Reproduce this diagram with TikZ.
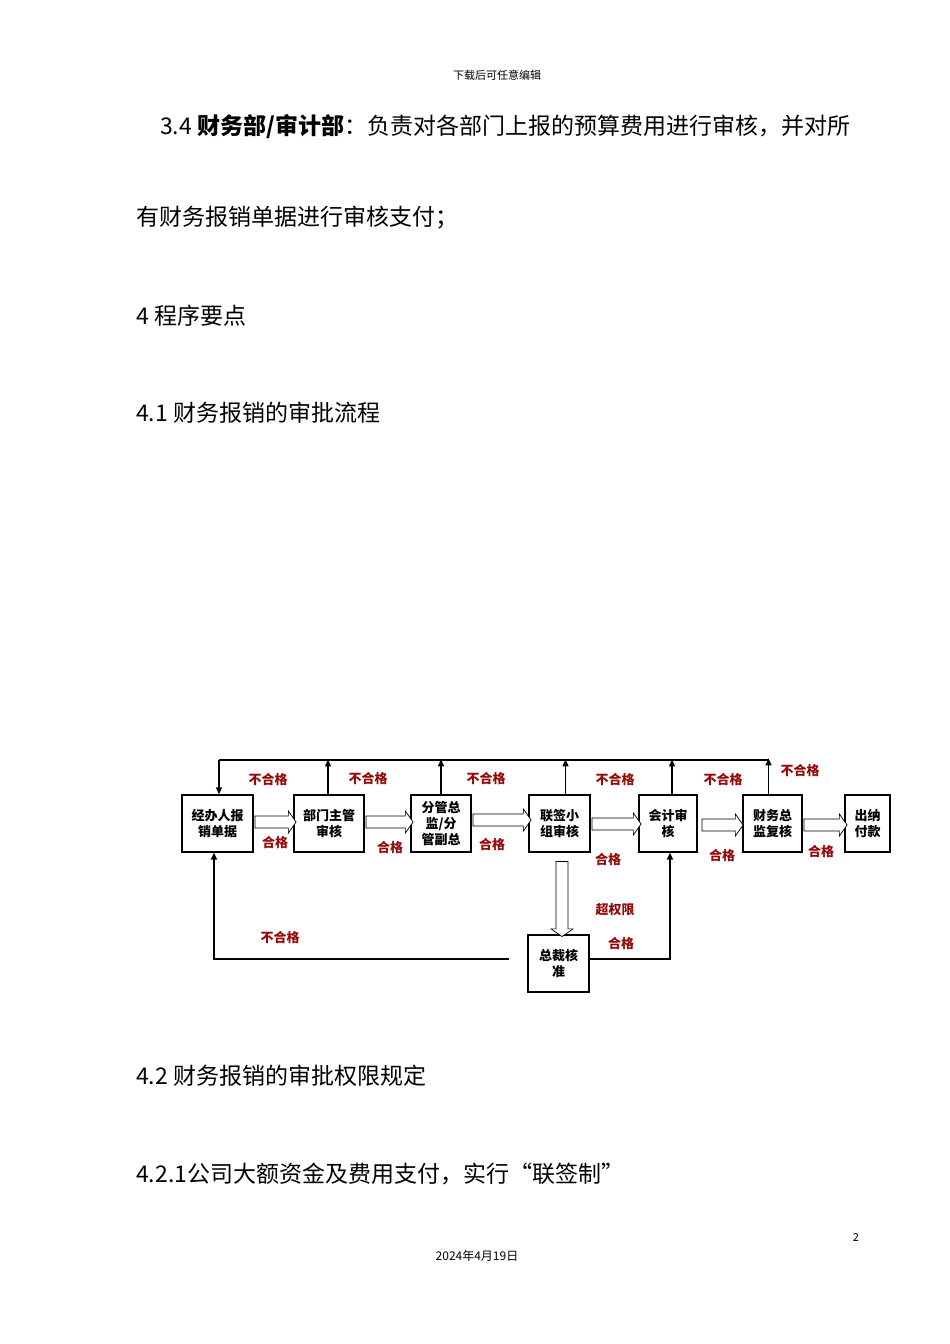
\documentclass[tikz,border=0pt]{standalone}
\usepackage{fontspec}
\setmainfont{Noto Sans CJK SC}
\usetikzlibrary{shapes.arrows,arrows.meta}
\begin{document}
\begin{tikzpicture}[x=1pt,y=-1pt,
 box/.style={draw,line width=1.3pt,inner sep=0pt,align=center,font=\fontsize{13}{16}\selectfont\bfseries},
 lab/.style={text={rgb,255:red,150;green,10;blue,10},font=\fontsize{13}{15}\selectfont\bfseries,inner sep=0pt},
 body/.style={anchor=west,font=\fontsize{23}{27}\selectfont,inner sep=0pt},
 harrow/.style={single arrow,draw,fill=white,line width=0.7pt,minimum width=22pt,single arrow head extend=5pt,inner xsep=0pt,inner ysep=5.5pt,text height=0pt,text depth=0pt,single arrow tip angle=110},
 ln/.style={line width=1.3pt},
 ar/.style={ln,-{Triangle[length=7pt,width=6pt]}}]
\useasboundingbox (0,0) rectangle (950,1344);
\node[font=\fontsize{11}{13}\selectfont] (hd) at (497,75) {下载后可任意编辑};
\node[body] (t1) at (160,127) {3.4 {\bfseries 财务部/审计部}：负责对各部门上报的预算费用进行审核，并对所};
\node[body] (t2) at (136,218) {有财务报销单据进行审核支付；};
\node[body] (t3) at (136,316) {4 程序要点};
\node[body] (t4) at (136,413) {4.1 财务报销的审批流程};
\node[body] (t5) at (136,1076) {4.2 财务报销的审批权限规定};
\node[body] (t6) at (136,1174) {4.2.1公司大额资金及费用支付，实行“联签制”};
\node[font=\fontsize{11}{13}\selectfont] (pg) at (856,1237) {2};
\node[font=\fontsize{12}{14}\selectfont] (ft) at (477,1256) {2024年4月19日};

\node[box,minimum width=71pt,minimum height=57pt] (b1) at (217.5,823.5) {经办人报\\销单据};
\node[box,minimum width=70pt,minimum height=57pt] (b2) at (329,823.5) {部门主管\\审核};
\node[box,minimum width=60pt,minimum height=57pt] (b3) at (441,823.5) {分管总\\监/分\\管副总};
\node[box,minimum width=61pt,minimum height=57pt] (b4) at (559.5,823.5) {联签小\\组审核};
\node[box,minimum width=58pt,minimum height=57pt] (b5) at (668,823.5) {会计审\\核};
\node[box,minimum width=59pt,minimum height=57pt] (b6) at (772.5,823.5) {财务总\\监复核};
\node[box,minimum width=45pt,minimum height=57pt] (b7) at (867.5,823.5) {出纳\\付款};
\node[box,minimum width=61pt,minimum height=57pt] (b8) at (558.5,963.5) {总裁核\\准};

\node[harrow,minimum height=41pt] (h1) at (273.5,822) {};
\node[harrow,minimum height=47pt] (h2) at (387.5,822) {};
\node[harrow,minimum height=58pt] (h3) at (500,820) {};
\node[harrow,minimum height=49pt] (h4) at (614.5,824) {};
\node[harrow,minimum height=41pt] (h5) at (720.5,825) {};
\node[harrow,minimum height=43pt] (h6) at (823.5,825) {};
\node[harrow,minimum height=75pt,rotate=-90] (h7) at (562,897) {};

\coordinate (c1) at (219,760);
\coordinate (c6) at (768,760);
\draw[ln] (c6) -- (c1);
\draw[ar] (c1) -- (b1.north -| c1);
\draw[ar] (b2.north) ++(-1,0) -- ++(0,-35);
\draw[ar] (b3.north) -- ++(0,-35);
\draw[ar] (b4.north) ++(6,0) -- ++(0,-35);
\draw[ar] (b5.north) ++(4,0) -- ++(0,-35);
\draw[ar] (b6.north) ++(-4,0) -- ++(0,-36);
\coordinate (c2) at (509,959);
\coordinate (c3) at (214,959);
\draw[ar] (c2) -- (c3) -- (b1.south -| c3);
\coordinate (c4) at (670,959);
\draw[ar] (b8.east |- c4) -- (c4) -- (b5.south -| c4);

\node[lab] (l1) at (268,780) {不合格};
\node[lab] (l2) at (368,779) {不合格};
\node[lab] (l3) at (486,779) {不合格};
\node[lab] (l4) at (615,780) {不合格};
\node[lab] (l5) at (723,780) {不合格};
\node[lab] (l6) at (800,771) {不合格};
\node[lab] (g1) at (275,843) {合格};
\node[lab] (g2) at (390,848) {合格};
\node[lab] (g3) at (492,845) {合格};
\node[lab] (g4) at (608,860) {合格};
\node[lab] (g5) at (722,856) {合格};
\node[lab] (g6) at (821,852) {合格};
\node[lab] (l7) at (615,910) {超权限};
\node[lab] (g7) at (621,944) {合格};
\node[lab] (l8) at (280,938) {不合格};
\end{tikzpicture}
\end{document}
